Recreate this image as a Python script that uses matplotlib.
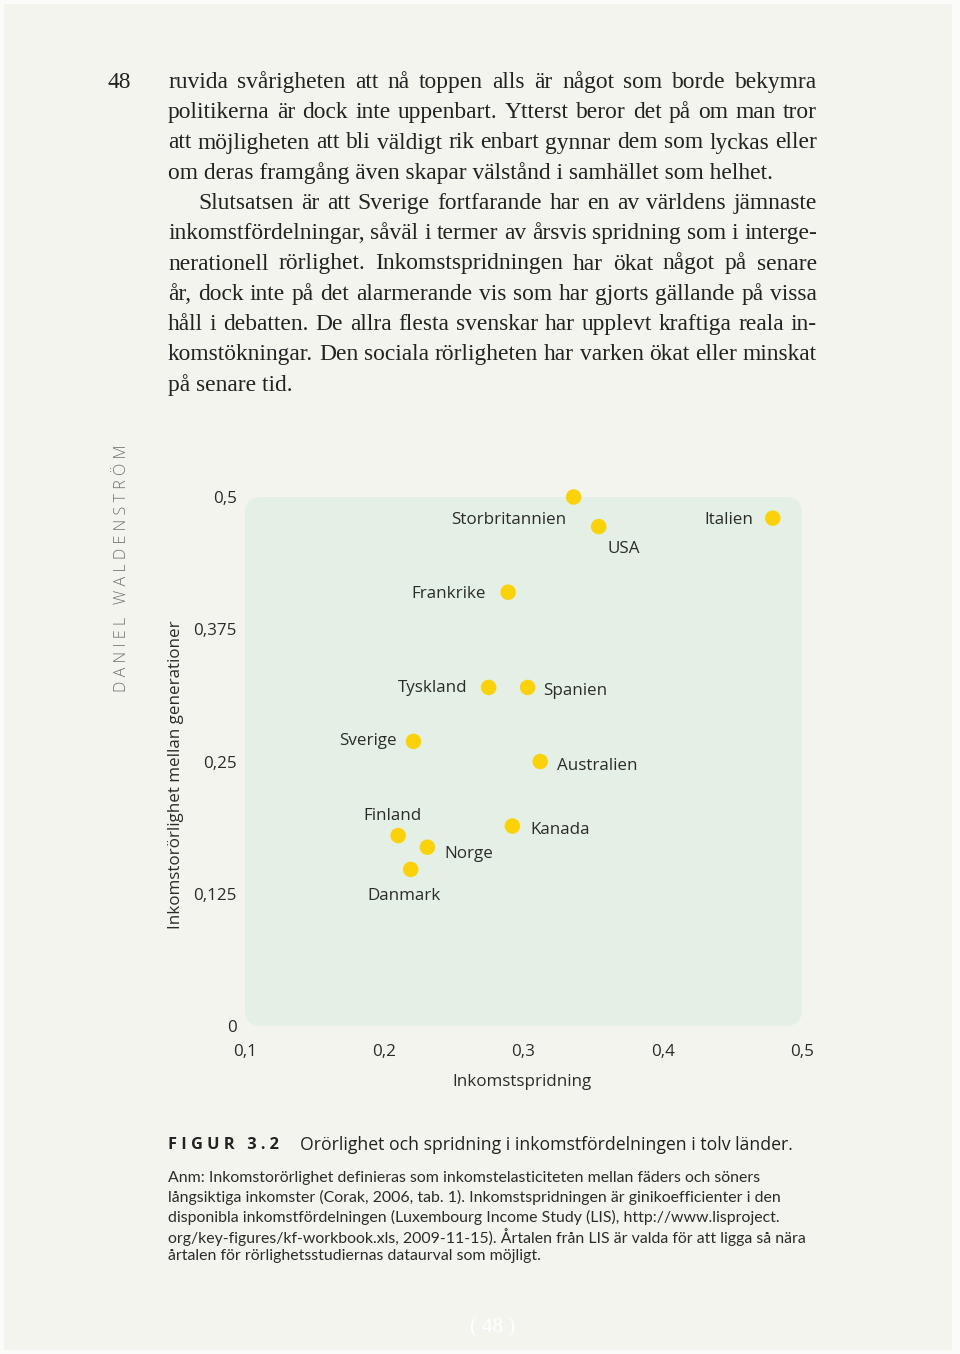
import matplotlib
matplotlib.use("Agg")
import matplotlib.pyplot as plt
from matplotlib.patches import FancyBboxPatch, Rectangle

# data
countries = ["Storbritannien", "USA", "Italien", "Frankrike", "Tyskland", "Spanien",
             "Sverige", "Australien", "Kanada", "Finland", "Norge", "Danmark"]
gini = [0.336, 0.354, 0.479, 0.289, 0.275, 0.303, 0.221, 0.312, 0.292, 0.210, 0.231, 0.219]
mobility = [0.500, 0.472, 0.480, 0.410, 0.320, 0.320, 0.269, 0.250, 0.189, 0.180, 0.169, 0.148]
xticks = [0.1, 0.2, 0.3, 0.4, 0.5]
xtick_labels = ["0,1", "0,2", "0,3", "0,4", "0,5"]
yticks = [0, 0.125, 0.25, 0.375, 0.5]
ytick_labels = ["0", "0,125", "0,25", "0,375", "0,5"]

# label placement: offset in pixels (x right, y up) and alignment
label_pos = {
    "Storbritannien": (-7, -23, "right"),
    "USA": (9, -22, "left"),
    "Italien": (-20, -2, "right"),
    "Frankrike": (-22, -2, "right"),
    "Tyskland": (-21, -1, "right"),
    "Spanien": (16, -4, "left"),
    "Sverige": (-17, 0, "right"),
    "Australien": (17, -5, "left"),
    "Kanada": (18, -4, "left"),
    "Finland": (-6, 20, "center"),
    "Norge": (17, -7, "left"),
    "Danmark": (-7, -27, "center"),
}

body = [
    ("ruvida svårigheten att nå toppen alls är något som borde bekymra", True, 168),
    ("politikerna är dock inte uppenbart. Ytterst beror det på om man tror", True, 168),
    ("att möjligheten att bli väldigt rik enbart gynnar dem som lyckas eller", True, 168),
    ("om deras framgång även skapar välstånd i samhället som helhet.", False, 168),
    ("Slutsatsen är att Sverige fortfarande har en av världens jämnaste", True, 198),
    ("inkomstfördelningar, såväl i termer av årsvis spridning som i interge-", True, 168),
    ("nerationell rörlighet. Inkomstspridningen har ökat något på senare", True, 168),
    ("år, dock inte på det alarmerande vis som har gjorts gällande på vissa", True, 168),
    ("håll i debatten. De allra flesta svenskar har upplevt kraftiga reala in-", True, 168),
    ("komstökningar. Den sociala rörligheten har varken ökat eller minskat", True, 168),
    ("på senare tid.", False, 168),
]
notes = [
    "Anm: Inkomstorörlighet definieras som inkomstelasticiteten mellan fäders och söners",
    "långsiktiga inkomster (Corak, 2006, tab. 1). Inkomstspridningen är ginikoefficienter i den",
    "disponibla inkomstfördelningen (Luxembourg Income Study (LIS), http://www.lisproject.",
    "org/key-figures/kf-workbook.xls, 2009-11-15). Årtalen från LIS är valda för att ligga så nära",
    "årtalen för rörlighetsstudiernas dataurval som möjligt.",
]

W, H = 960, 1354
fig = plt.figure(figsize=(W / 100, H / 100), dpi=100, facecolor="#FBFBF9")
page = fig.add_axes([0, 0, 1, 1])
page.set_xlim(0, W)
page.set_ylim(H, 0)
page.axis("off")
page.add_patch(Rectangle((4, 4), 948, 1346, facecolor="#F4F4EF", edgecolor="none"))
rend = fig.canvas.get_renderer()

SERIF = "Liberation Serif"
SANS = "Open Sans"
DARK = "#222222"


def width(s, **kw):
    t = page.text(0, 0, s, **kw)
    w = t.get_window_extent(rend).width
    t.remove()
    return w


def fit(s, target, **kw):
    return 10 * target / width(s, fontsize=10, **kw)


# body text, justified
fs_body = fit(body[3][0], 607, family=SERIF)
y = 88
for txt, just, x0 in body:
    kw = dict(family=SERIF, fontsize=fs_body, color=DARK, va="baseline")
    if just:
        words = txt.split()
        ws = [width(w, **kw) for w in words]
        gap = (817 - x0 - sum(ws)) / (len(words) - 1)
        x = x0
        for w, wd in zip(words, ws):
            page.text(x, y, w, **kw)
            x += wd + gap
    else:
        page.text(x0, y, txt, **kw)
    y += 30.25

page.text(108, 88, "48", family=SERIF, fontsize=fs_body, color=DARK, va="baseline")

# author on the side
author = "D A N I E L   W A L D E N S T R Ö M"
fs_auth = fit(author, 247, family=SANS, fontweight="light")
page.text(122, 568, author, family=SANS, fontsize=fs_auth, fontweight="light",
          color="#707070", rotation=90, ha="center", va="center")

# scatter chart
fs_chart = fit("Inkomstspridning", 139, family=SANS)
ax = fig.add_axes([245 / W, 1 - 1026 / H, 557 / W, 529 / H])
ax.set_xlim(0.1, 0.5)
ax.set_ylim(0, 0.5)
for s in ax.spines.values():
    s.set_visible(False)
ax.set_facecolor("none")
ax.add_patch(FancyBboxPatch((0, 0), 1, 1, boxstyle="round,pad=0,rounding_size=0.03",
                            mutation_aspect=557 / 529, transform=ax.transAxes,
                            facecolor="#E4F0E6", edgecolor="none", zorder=0, clip_on=False))
ax.scatter(gini, mobility, s=125, color="#FBD20A", edgecolors="none", zorder=3, clip_on=False)
for name, gx, my in zip(countries, gini, mobility):
    dx, dy, ha = label_pos[name]
    ax.annotate(name, (gx, my), xytext=(dx, dy), textcoords="offset pixels",
                ha=ha, va="center", family=SANS, fontsize=fs_chart, color="#2b2b2b")
ax.set_xticks(xticks)
ax.set_xticklabels(xtick_labels, family=SANS, fontsize=fs_chart, color="#2b2b2b")
ax.set_yticks(yticks)
ax.set_yticklabels(ytick_labels, family=SANS, fontsize=fs_chart, color="#2b2b2b")
ax.tick_params(axis="x", length=0, pad=13)
ax.tick_params(axis="y", length=0, pad=6)
ax.set_xlabel("Inkomstspridning", family=SANS, fontsize=fs_chart, color="#2b2b2b",
              va="center", ha="center")
ax.xaxis.set_label_coords(0.497, -56 / 529)
ax.set_ylabel("Inkomstorörlighet mellan generationer", family=SANS, fontsize=fs_chart,
              color="#2b2b2b", va="center", ha="center")
ax.yaxis.set_label_coords(-69 / 557, 251 / 529)

# caption
fig_lbl = "F I G U R   3 . 2"
fs_fig = fit(fig_lbl, 111, family=SANS, fontweight="bold")
page.text(168, 1145, fig_lbl, family=SANS, fontsize=fs_fig, fontweight="bold",
          color=DARK, va="center")
title = "Orörlighet och spridning i inkomstfördelningen i tolv länder."
fs_title = fit(title, 491, family=SANS)
page.text(300, 1145, title, family=SANS, fontsize=fs_title, color=DARK, va="center")

fs_note = fit(notes[3], 639, family="Lato")
y = 1178
for line in notes:
    page.text(168, y, line, family="Lato", fontsize=fs_note, color="#2b2b2b", va="center")
    y += 19.6

page.text(493, 1328, "( 48 )", family=SERIF, fontsize=15, color="white",
          ha="center", va="center")

fig.savefig("out.png", dpi=100, facecolor=fig.get_facecolor())
